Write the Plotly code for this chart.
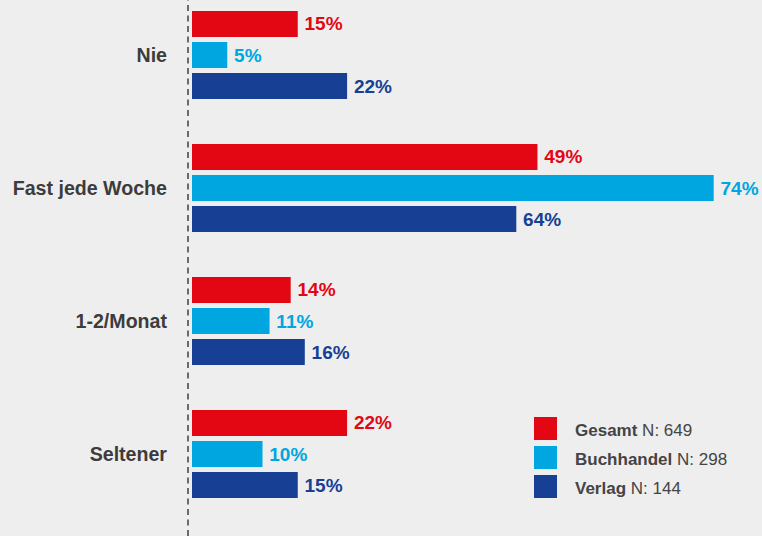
import plotly.graph_objects as go

categories = ["Nie", "Fast jede Woche", "1-2/Monat", "Seltener"]
series_names = ["Gesamt", "Buchhandel", "Verlag"]
series_n = [649, 298, 144]
gesamt = [15, 49, 14, 22]
buchhandel = [5, 74, 11, 10]
verlag = [22, 46, 16, 15]
# printed labels (the Verlag "Fast jede Woche" label reads 64% in the source)
gesamt_labels = [15, 49, 14, 22]
buchhandel_labels = [5, 74, 11, 10]
verlag_labels = [22, 64, 16, 15]

colors = ["#E30613", "#00A6E0", "#173F94"]
values = [gesamt, buchhandel, verlag]
labels = [gesamt_labels, buchhandel_labels, verlag_labels]

W, H = 762, 536
px_per_unit = 7.05
left_margin = 188
FONT = "Liberation Sans, Arial, sans-serif"

fig = go.Figure()
for name, vals, labs, col in zip(series_names, values, labels, colors):
    fig.add_trace(go.Bar(
        y=categories, x=vals, orientation="h", name=name,
        marker=dict(color=col, line=dict(width=0)),
        text=[f"\u2009{v}%" for v in labs], textposition="outside",
        textfont=dict(family=FONT, size=19, weight="bold", color=col),
        cliponaxis=False, showlegend=False, hoverinfo="skip",
    ))

x0 = -4 / px_per_unit
x1 = x0 + (W - left_margin) / px_per_unit
cat_px = 133
ytop = -55 / cat_px
ybot = ytop + H / cat_px

fig.update_layout(
    width=W, height=H,
    margin=dict(l=left_margin, r=0, t=0, b=0),
    paper_bgcolor="#EEEEEE", plot_bgcolor="#EEEEEE",
    barmode="group", bargap=0.30, bargroupgap=0.16,
    xaxis=dict(range=[x0, x1], visible=False, fixedrange=True),
    yaxis=dict(range=[ybot, ytop], showgrid=False, zeroline=False, showline=False,
               ticks="", ticklabelstandoff=20, fixedrange=True,
               tickfont=dict(family=FONT, size=19.6, weight="bold", color="#3C3C3C")),
    uniformtext=dict(mode=False),
)

# dashed baseline
fig.add_shape(type="line", xref="paper", yref="paper", x0=0, x1=0, y0=0, y1=1,
              line=dict(color="#4A4A4A", width=1.6, dash="6px,4.5px"))

# manual legend
sq = 23
leg_x = 534
leg_tops = [417, 446, 475]
for name, n, col, top in zip(series_names, series_n, colors, leg_tops):
    fig.add_shape(type="rect", xref="paper", yref="paper",
                  x0=(leg_x - left_margin) / (W - left_margin),
                  x1=(leg_x + sq - left_margin) / (W - left_margin),
                  y0=1 - (top + sq) / H, y1=1 - top / H,
                  fillcolor=col, line=dict(width=0))
    fig.add_annotation(xref="paper", yref="paper",
                       x=(573 - left_margin) / (W - left_margin),
                       y=1 - (top + sq / 2 + 2) / H,
                       xanchor="left", yanchor="middle", showarrow=False,
                       text=f"<b>{name}</b> N: {n}",
                       font=dict(family=FONT, size=17, color="#444444"))

fig.write_html("out.html", config={"displayModeBar": False},
               post_script="document.body.style.margin='0';document.body.style.background='#EEEEEE';")
